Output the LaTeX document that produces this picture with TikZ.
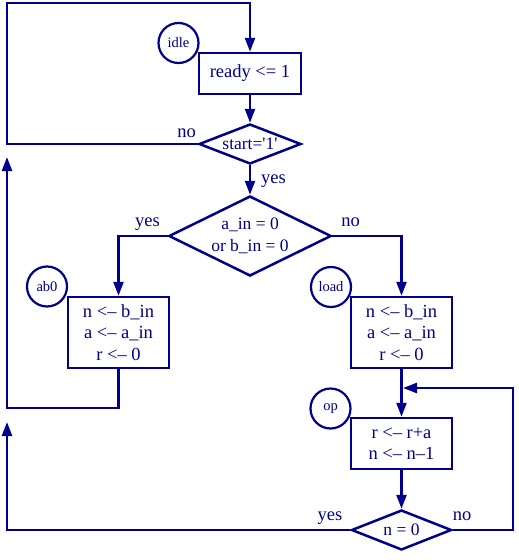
\documentclass[tikz,border=0pt]{standalone}
\usepackage{fontspec}
\setmainfont{Liberation Serif}
\usetikzlibrary{arrows.meta, shapes.geometric, positioning}
\definecolor{flowink}{RGB}{0, 0, 140}

\begin{document}
\begin{tikzpicture}[x=1pt, y=-1pt,
    every node/.style={text=flowink, font=\fontsize{18.5}{21.5}\selectfont},
    stmt/.style={draw=flowink, line width=2.5pt, rectangle, minimum width=101pt,
      inner sep=0pt, align=center},
    test/.style={draw=flowink, line width=2.5pt, diamond, aspect=2.4, inner sep=0pt,
      align=center, font=\fontsize{17.5}{21.5}\selectfont},
    tag/.style={draw=flowink, line width=2.2pt, circle, minimum size=40pt, inner sep=0pt,
      font=\fontsize{14.5}{16}\selectfont},
    lbl/.style={anchor=base, inner sep=0pt, font=\fontsize{18.5}{20}\selectfont},
    flow/.style={draw=flowink, line width=2.5pt, -{Triangle[length=14pt, width=10pt]}},
  ]
  \useasboundingbox (0,0) rectangle (519,560);

  \node[stmt, minimum width=102pt, minimum height=41pt] (ready) at (250,73.5) {ready <= 1};
  \node[test, minimum width=102pt, minimum height=40pt] (startq) at (250,144)
    {start=\textquotesingle1\textquotesingle};
  \node[test, minimum width=161pt, minimum height=80pt] (zeroq) at (250,236)
    {a\_in = 0\\or b\_in = 0};
  \node[stmt, minimum height=71pt] (ab0box) at (118.5,332.5)
    {n <– b\_in\\a <– a\_in\\r <– 0};
  \node[stmt, minimum height=71pt] (loadbox) at (401.5,332.5)
    {n <– b\_in\\a <– a\_in\\r <– 0};
  \node[stmt, minimum height=51pt] (opbox) at (401.5,443.5) {r <– r+a\\n <– n–1};
  \node[test, minimum width=100pt, minimum height=40pt] (doneq) at (401.5,530) {n = 0};

  \node[tag] (idle) at (178.5,43) {idle};
  \node[tag] (ab0) at (47,286.5) {ab0};
  \node[tag] (load) at (331,287) {load};
  \node[tag] (op) at (330.5,408.5) {op};

  \node[lbl] (startno) at (186.5,137) {no};
  \node[lbl] (startyes) at (273.5,183) {yes};
  \node[lbl] (zeroyes) at (147.5,226) {yes};
  \node[lbl] (zerono) at (350.5,226) {no};
  \node[lbl] (doneyes) at (330,520) {yes};
  \node[lbl] (doneno) at (462,520) {no};

  \coordinate (topleft) at (7,3);
  \coordinate (ab0turn) at (7,408);
  \coordinate (ab0tip) at (7,157);
  \coordinate (donetip) at (7,422);
  \coordinate (loopturn) at (513,388);
  \coordinate (looptip) at (403,388);

  \draw[flow] (startq.west) -| (topleft) -| (ready.north);
  \draw[flow] (ready) -- (startq);
  \draw[flow] (startq) -- (zeroq);
  \draw[flow] (zeroq.west) -| (ab0box.north);
  \draw[flow] (zeroq.east) -| (loadbox.north);
  \draw[flow] (ab0box.south) |- (ab0turn) -- (ab0tip);
  \draw[flow] (loadbox) -- (opbox);
  \draw[flow] (opbox) -- (doneq);
  \draw[flow] (doneq.west) -| (donetip);
  \draw[flow] (doneq.east) -| (loopturn) -- (looptip);
\end{tikzpicture}
\end{document}
